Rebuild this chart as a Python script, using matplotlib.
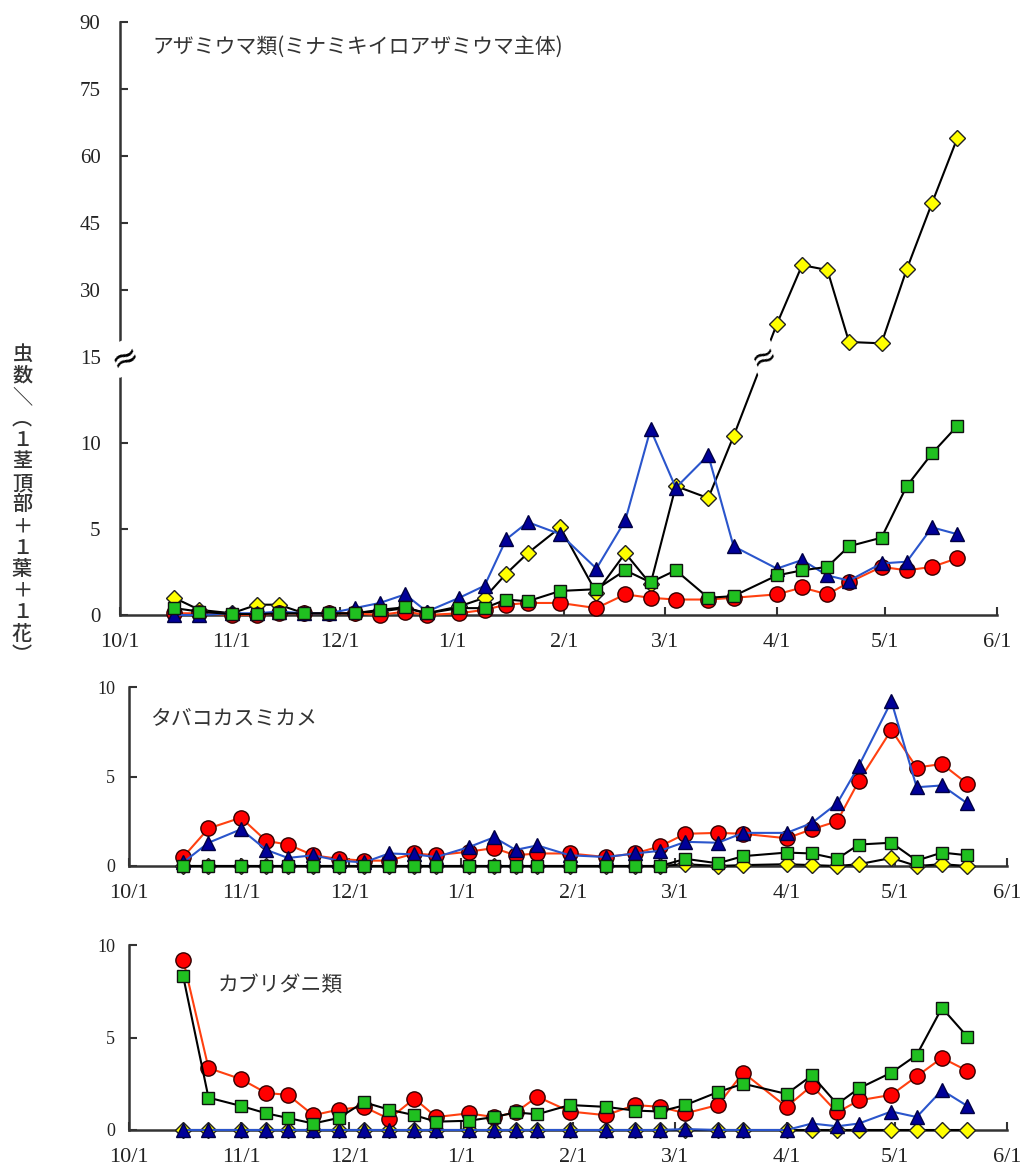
import numpy as np
import pandas as pd
import matplotlib
matplotlib.use("Agg")
import matplotlib.pyplot as plt

plt.rcParams['font.family'] = ['Noto Sans CJK JP', 'DejaVu Sans']

# 調査日
dates = ["10/16", "10/23", "11/1", "11/8", "11/14", "11/21", "11/28", "12/5", "12/12", "12/19",
         "12/25", "1/3", "1/10", "1/16", "1/22", "1/31", "2/10", "2/18", "2/25", "3/4",
         "3/13", "3/20", "4/1", "4/8", "4/15", "4/21", "4/30", "5/7", "5/14", "5/21"]
month_ticks = ["10/1", "11/1", "12/1", "1/1", "2/1", "3/1", "4/1", "5/1", "6/1"]

# アザミウマ類
thr_red = [0.1, 0.1, 0.0, 0.0, 0.1, 0.1, 0.1, 0.1, 0.0, 0.2, 0.0, 0.1, 0.3, 0.6, 0.7,
           0.7, 0.4, 1.2, 1.0, 0.9, 0.9, 1.0, 1.2, 1.6, 1.2, 1.9, 2.8, 2.6, 2.8, 3.3]
thr_blue = [0.0, 0.0, 0.1, 0.1, 0.2, 0.1, 0.1, 0.4, 0.7, 1.2, 0.2, 1.0, 1.7, 4.4, 5.4,
            4.7, 2.7, 5.5, 10.8, 7.4, 9.3, 4.0, 2.7, 3.2, 2.3, 2.0, 3.0, 3.1, 5.1, 4.7]
thr_green = [0.4, 0.2, 0.05, 0.05, 0.1, 0.1, 0.1, 0.1, 0.3, 0.45, 0.1, 0.4, 0.4, 0.9, 0.8,
             1.4, 1.5, 2.6, 1.9, 2.6, 1.0, 1.1, 2.3, 2.6, 2.8, 4.0, 4.5, 7.5, 9.4, 11.0]
thr_yellow = [1.0, 0.3, 0.1, 0.6, 0.6, 0.1, 0.1, 0.1, 0.2, 0.4, 0.1, 0.5, 1.0, 2.4, 3.6,
              5.1, 1.3, 3.6, 1.8, 7.5, 6.8, 10.4, 22.4, 35.6, 34.5, 18.4, 18.1, 34.7, 49.5, 64.0]

# タバコカスミカメ
tab_red = [0.5, 2.1, 2.7, 1.4, 1.2, 0.6, 0.4, 0.3, 0.3, 0.7, 0.6, 0.8, 1.0, 0.6, 0.7,
           0.7, 0.5, 0.7, 1.1, 1.8, 1.85, 1.8, 1.55, 2.05, 2.5, 4.75, 7.6, 5.5, 5.7, 4.6]
tab_blue = [0.2, 1.3, 2.05, 0.9, 0.45, 0.6, 0.3, 0.2, 0.7, 0.65, 0.5, 1.05, 1.6, 0.9, 1.15,
            0.6, 0.5, 0.7, 0.85, 1.35, 1.3, 1.85, 1.85, 2.4, 3.5, 5.6, 9.2, 4.4, 4.5, 3.5]
tab_green = [0, 0, 0, 0, 0, 0, 0, 0, 0, 0, 0, 0, 0, 0, 0,
             0, 0, 0, 0, 0.4, 0.15, 0.55, 0.75, 0.7, 0.4, 1.2, 1.3, 0.3, 0.75, 0.6]
tab_yellow = [0, 0, 0, 0, 0, 0, 0, 0, 0, 0, 0, 0, 0, 0, 0,
              0, 0, 0, 0, 0.1, 0.0, 0.05, 0.1, 0.05, 0.0, 0.1, 0.45, 0.0, 0.1, 0.0]

# カブリダニ類
mite_red = [9.2, 3.35, 2.75, 2.0, 1.9, 0.8, 1.1, 1.25, 0.6, 1.7, 0.7, 0.9, 0.7, 0.95, 1.8,
            1.0, 0.8, 1.35, 1.25, 0.9, 1.35, 3.1, 1.25, 2.4, 0.95, 1.6, 1.9, 2.9, 3.9, 3.2]
mite_blue = [0, 0, 0, 0, 0, 0, 0, 0, 0, 0, 0, 0, 0, 0, 0,
             0, 0, 0, 0, 0.05, 0, 0, 0.0, 0.35, 0.2, 0.35, 1.0, 0.7, 2.15, 1.3]
mite_green = [8.3, 1.75, 1.3, 0.9, 0.65, 0.35, 0.65, 1.5, 1.1, 0.8, 0.45, 0.5, 0.7, 0.95, 0.85,
              1.35, 1.25, 1.05, 1.0, 1.35, 2.05, 2.5, 1.95, 2.95, 1.4, 2.25, 3.1, 4.05, 6.6, 5.05]
mite_yellow = [0, 0, 0, 0, 0, 0, 0, 0, 0, 0, 0, 0, 0, 0, 0,
               0, 0, 0, 0, 0, 0, 0, 0, 0, 0, 0, 0, 0, 0, 0]

titles = ["アザミウマ類(ミナミキイロアザミウマ主体)", "タバコカスミカメ", "カブリダニ類"]
ylabel = "虫数＼︵１茎頂部＋１葉＋１花︶"


def to_date(s):
    m, d = map(int, s.split('/'))
    return pd.Timestamp(2008 if m >= 10 else 2009, m, d)


x = [to_date(s) for s in dates]
xt = [to_date(s) for s in month_ticks]

W, H = 1032, 1170
fig = plt.figure(figsize=(W / 100, H / 100), dpi=100)

BREAK = 15
K = 0.26


def fwd(v):
    v = np.asarray(v, dtype=float)
    return np.where(v <= BREAK, v, BREAK + (v - BREAK) * K)


def inv(t):
    t = np.asarray(t, dtype=float)
    return np.where(t <= BREAK, t, BREAK + (t - BREAK) / K)


def px_axes(l, r, b, t):
    return fig.add_axes([l / W, 1 - b / H, (r - l) / W, (b - t) / H])


ax1 = px_axes(120, 997, 615, 22)
ax2 = px_axes(129, 1007, 866, 687)
ax3 = px_axes(129, 1007, 1130, 945)

ax1.set_yscale('function', functions=(fwd, inv))


def draw(ax, red, blue, green, yellow):
    ax.plot(x, yellow, color='black', lw=1.5, marker='D', ms=8.5, mfc='#ffff00',
            mec='#222222', mew=1, zorder=3, clip_on=False)
    ax.plot(x, red, color='#ff4010', lw=1.5, marker='o', ms=11, mfc='#ff0000',
            mec='#330000', mew=1, zorder=4, clip_on=False)
    ax.plot(x, blue, color='#2a55cc', lw=1.5, marker='^', ms=10.5, mfc='#000099',
            mec='#000044', mew=1, zorder=5, clip_on=False)
    ax.plot(x, green, color='black', lw=1.5, marker='s', ms=8.5, mfc='#20c020',
            mec='#111111', mew=1, zorder=6, clip_on=False)


draw(ax1, thr_red, thr_blue, thr_green, thr_yellow)
draw(ax2, tab_red, tab_blue, tab_green, tab_yellow)
draw(ax3, mite_red, mite_blue, mite_green, mite_yellow)

for ax in (ax1, ax2, ax3):
    ax.set_xlim(xt[0], xt[-1])
    ax.set_xticks(xt)
    ax.set_xticklabels(month_ticks, fontfamily='Liberation Serif', fontsize=16, color='#222222')
    for s in ('top', 'right'):
        ax.spines[s].set_visible(False)
    for s in ('left', 'bottom'):
        ax.spines[s].set_linewidth(1.8)
        ax.spines[s].set_color('#333333')
    ax.tick_params(direction='in', length=6, width=1.5, color='#333333')
    ax.tick_params(axis='x', pad=13)
    ax.set_facecolor('none')

ax1.set_ylim(0, 90)
ax1.set_yticks([0, 5, 10, 15, 30, 45, 60, 75, 90])
ax1.set_yticklabels(['0', '5', '10', '15', '30', '45', '60', '75', '90'],
                    fontfamily='Liberation Serif', fontsize=15, color='#222222')
ax1.tick_params(axis='y', pad=14)

for ax in (ax2, ax3):
    ax.set_ylim(0, 10)
    ax.set_yticks([0, 5, 10])
    ax.set_yticklabels(['0', '5', '10'], fontfamily='Liberation Serif', fontsize=13,
                       color='#222222')
    ax.tick_params(axis='y', pad=10)

# 省略記号
ax1.text(0.006, BREAK, '≈', transform=ax1.get_yaxis_transform(), ha='center', va='center',
         fontsize=24, fontfamily='DejaVu Sans', rotation=25, color='black',
         bbox=dict(fc='white', ec='none', pad=0), zorder=10, clip_on=False)
i = dates.index("3/20")
y0, y1 = fwd(thr_yellow[i]), fwd(thr_yellow[i + 1])
t = float((BREAK - y0) / (y1 - y0))
xm = x[i] + (x[i + 1] - x[i]) * t
ax1.text(xm, BREAK, '≈', ha='center', va='center', fontsize=22, fontfamily='DejaVu Sans',
         rotation=25, color='black', bbox=dict(fc='white', ec='none', pad=0), zorder=10)

fig.text(152 / W, 1 - 47 / H, titles[0], ha='left', va='center', fontsize=15, color='#333333')
fig.text(150 / W, 1 - 718 / H, titles[1], ha='left', va='center', fontsize=15, color='#333333')
fig.text(218 / W, 1 - 985 / H, titles[2], ha='left', va='center', fontsize=15, color='#333333')

fig.text(22 / W, 1 - 505 / H, '\n'.join(ylabel), ha='center', va='center', fontsize=14.5,
         multialignment='center', linespacing=1.17, color='#333333', fontweight='medium')

fig.savefig('out.png', dpi=100, facecolor='white')
